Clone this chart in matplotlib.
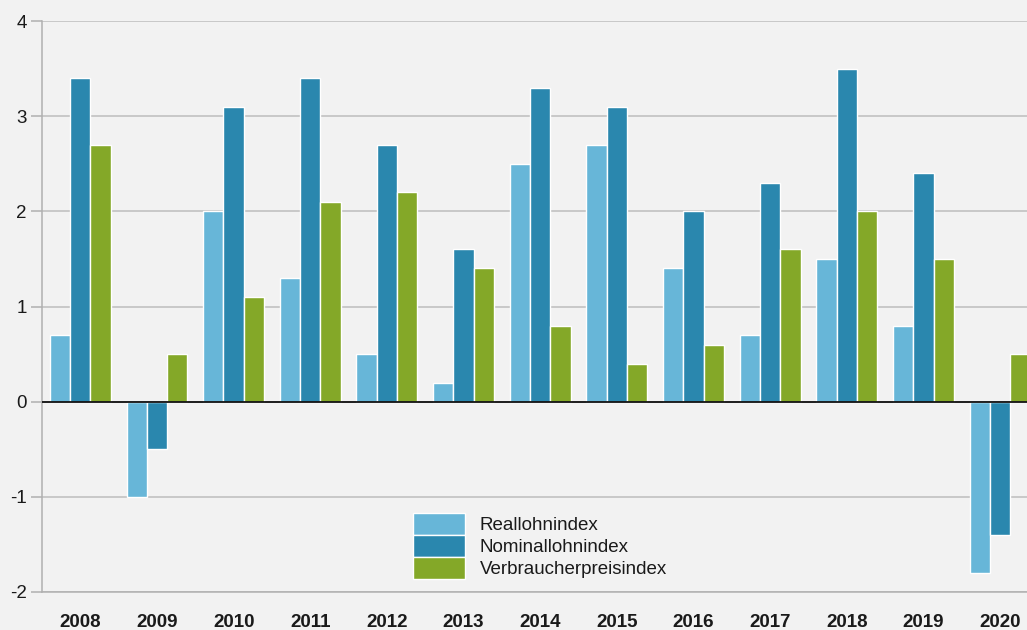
import matplotlib
matplotlib.use("Agg")
import matplotlib.pyplot as plt
import numpy as np

plt.rcParams['font.family'] = ['Liberation Sans', 'DejaVu Sans']

years = ["2008", "2009", "2010", "2011", "2012", "2013", "2014",
         "2015", "2016", "2017", "2018", "2019", "2020"]
reallohn = [0.7, -1.0, 2.0, 1.3, 0.5, 0.2, 2.5, 2.7, 1.4, 0.7, 1.5, 0.8, -1.8]
nominallohn = [3.4, -0.5, 3.1, 3.4, 2.7, 1.6, 3.3, 3.1, 2.0, 2.3, 3.5, 2.4, -1.4]
verbraucher = [2.7, 0.5, 1.1, 2.1, 2.2, 1.4, 0.8, 0.4, 0.6, 1.6, 2.0, 1.5, 0.5]
series_names = ["Reallohnindex", "Nominallohnindex", "Verbraucherpreisindex"]
colors = ["#67b6d8", "#2a87ae", "#84a828"]
bg = "#f2f2f2"
fs = 13.5

fig = plt.figure(figsize=(10.27, 6.30), dpi=100, facecolor=bg)
ax = fig.add_axes([42/1027, 38/630, 1 - 42/1027, (592-21)/630])
ax.set_facecolor(bg)

x = np.arange(len(years))
w = 0.265
for i, (vals, name, c) in enumerate(zip([reallohn, nominallohn, verbraucher], series_names, colors)):
    ax.bar(x + (i - 1) * w, vals, width=w, color=c, edgecolor="white",
           linewidth=1.0, label=name, zorder=3)

ax.set_ylim(-2, 4)
ax.set_xlim(-0.5, 12.35)
ax.set_yticks([-2, -1, 0, 1, 2, 3, 4])
ax.set_yticklabels(["-2", "-1", "0", "1", "2", "3", "4"])
ax.yaxis.grid(True, color="#bdbdbd", linewidth=1.1, zorder=0)
ax.axhline(0, color="#111111", linewidth=1.3, zorder=4)
ax.set_xticks(x)
ax.set_xticklabels(years, fontweight="bold")
ax.tick_params(axis="x", length=0, pad=16, labelsize=fs, colors="#1a1a1a")
ax.tick_params(axis="y", length=8, width=1.1, color="#b0b0b0", labelsize=fs,
               labelcolor="#1a1a1a", pad=3)
for s in ["top", "right"]:
    ax.spines[s].set_visible(False)
ax.spines["left"].set_color("#b0b0b0")
ax.spines["left"].set_linewidth(1.1)
ax.spines["bottom"].set_color("#b0b0b0")
ax.spines["bottom"].set_linewidth(1.1)

leg = ax.legend(loc="upper left", bbox_to_anchor=(371/985, 1 - (513-21)/571),
                frameon=False, fontsize=fs, handlelength=2.77, handleheight=1.42,
                labelspacing=0.0, handletextpad=0.8, borderpad=0, borderaxespad=0)
for t in leg.get_texts():
    t.set_color("#1a1a1a")

fig.savefig("out.png", dpi=100, facecolor=bg)
